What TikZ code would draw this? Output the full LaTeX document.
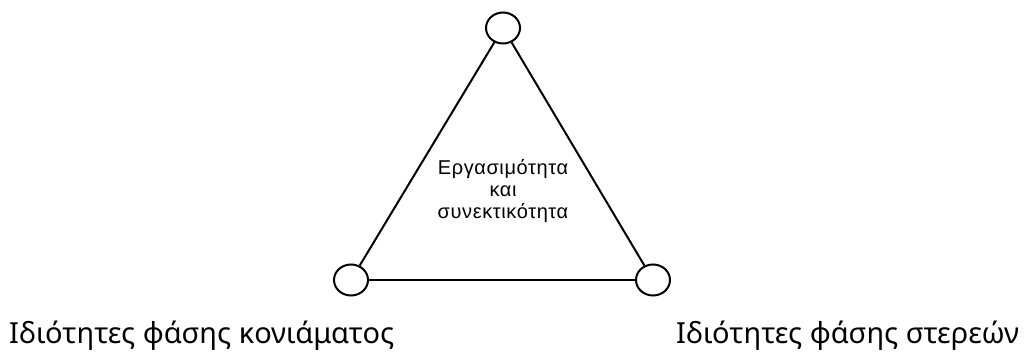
\documentclass[tikz,border=0pt]{standalone}
\usepackage{fontspec}
\setmainfont{Noto Sans}
\newfontfamily\midfont[LetterSpace=3]{Liberation Sans}
\usetikzlibrary{shapes.geometric}

\begin{document}
\begin{tikzpicture}[
    x=1pt, y=-1pt,
    vertex/.style={draw,ellipse,line width=2pt,minimum width=34pt,minimum height=31pt,inner sep=0pt},
    side/.style={line width=2pt},
    corner/.style={font=\fontsize{29}{34}\selectfont,anchor=base west,inner sep=0pt},
]
\useasboundingbox (0,0) rectangle (1033,352);

% Vertices
\node[vertex] (top) at (503,28) {};
\node[vertex] (left) at (351,280) {};
\node[vertex] (right) at (653,280) {};

% Sides
\draw[side] (top) -- (left);
\draw[side] (top) -- (right);
\draw[side] (left) -- (right);

% Centre text
\node[font=\midfont\fontsize{20}{22}\selectfont,align=center] (centre) at (503,191)
    {Εργασιμότητα\\και\\συνεκτικότητα};

% Corner labels
\node[corner] (mortar) at (9,344) {Ιδιότητες φάσης κονιάματος};
\node[corner] (solids) at (676,344) {Ιδιότητες φάσης στερεών};
\end{tikzpicture}
\end{document}
